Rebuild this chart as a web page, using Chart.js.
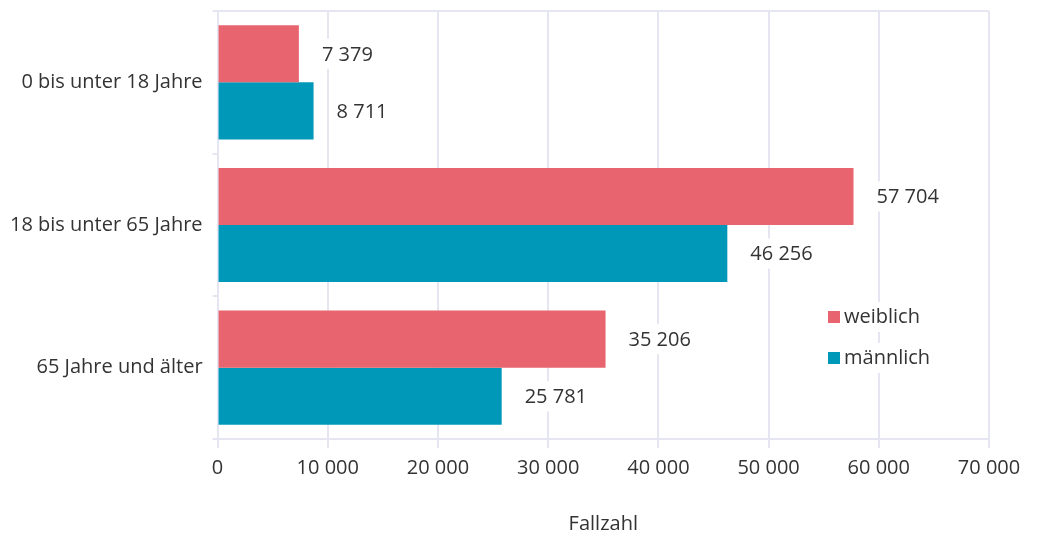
<!DOCTYPE html>
<html>
<head>
<meta charset="utf-8">
<script src="https://cdn.jsdelivr.net/npm/chart.js@4/dist/chart.umd.min.js"></script>
<style>
  html, body { margin: 0; padding: 0; background: #fff; }
  #wrap { width: 1040px; height: 533px; }
</style>
</head>
<body>
<div id="wrap"><canvas id="chart"></canvas></div>
<script>
const categories = ['0 bis unter 18 Jahre', '18 bis unter 65 Jahre', '65 Jahre und älter'];
const weiblich = [7379, 57704, 35206];
const maennlich = [8711, 46256, 25781];
const seriesNames = ['weiblich', 'männlich'];
const xTitle = 'Fallzahl';

const PINK = '#e8646e';
const BLUE = '#0098b9';
const GRID = '#e6e6f3';
const TEXT = '#333333';
const FONT = "'Open Sans', sans-serif";
const FS = 20;

const fmt = v => String(v).replace(/\B(?=(\d{3})+(?!\d))/g, ' ');

// Wertbeschriftungen rechts neben den Balken
const valueLabels = {
    id: 'valueLabels',
    afterDatasetsDraw(chart) {
        const c = chart.ctx;
        c.save();
        c.font = FS + 'px ' + FONT;
        c.textBaseline = 'middle';
        chart.data.datasets.forEach((ds, i) => {
            chart.getDatasetMeta(i).data.forEach((bar, j) => {
                const txt = fmt(ds.data[j]);
                const x = bar.x + 23;
                const w = c.measureText(txt).width;
                c.fillStyle = '#fff';
                c.fillRect(x - 6, bar.y - 15, w + 12, 30);
                c.fillStyle = TEXT;
                c.fillText(txt, x, bar.y + 1);
            });
        });
        c.restore();
    }
};

// Legende innerhalb der Grafik
const innerLegend = {
    id: 'innerLegend',
    afterDraw(chart) {
        const c = chart.ctx;
        c.save();
        c.font = FS + 'px ' + FONT;
        c.textBaseline = 'middle';
        chart.data.datasets.forEach((ds, i) => {
            const y = 317 + i * 41;
            c.fillStyle = '#fff';
            c.fillRect(822, y - 15, 116, 30);
            c.fillStyle = ds.backgroundColor;
            c.fillRect(828, y - 6, 12, 12);
            c.fillStyle = TEXT;
            c.fillText(ds.label, 844, y);
        });
        c.restore();
    }
};

new Chart(document.getElementById('chart'), {
    type: 'bar',
    data: {
        labels: categories,
        datasets: [
            { label: seriesNames[0], data: weiblich, backgroundColor: PINK },
            { label: seriesNames[1], data: maennlich, backgroundColor: BLUE }
        ]
    },
    options: {
        indexAxis: 'y',
        responsive: true,
        maintainAspectRatio: false,
        animation: false,
        layout: { padding: { top: 11, right: 51, bottom: -3, left: 0 } },
        datasets: { bar: { categoryPercentage: 0.8, barPercentage: 1.0 } },
        plugins: {
            legend: { display: false },
            tooltip: { enabled: false }
        },
        scales: {
            x: {
                min: 0,
                max: 70000,
                ticks: {
                    stepSize: 10000,
                    color: TEXT,
                    font: { family: FONT, size: FS },
                    padding: 8,
                    callback: v => fmt(v)
                },
                grid: { color: GRID, lineWidth: 2, tickLength: 9 },
                border: { color: GRID, width: 2 },
                title: {
                    display: true,
                    text: xTitle,
                    color: TEXT,
                    font: { family: FONT, size: FS },
                    padding: { top: 24, bottom: 0 }
                }
            },
            y: {
                offset: true,
                afterFit: s => { s.paddingTop = 0; s.paddingBottom = 0; },
                ticks: {
                    color: TEXT,
                    font: { family: FONT, size: FS },
                    padding: 10
                },
                grid: {
                    offset: true,
                    lineWidth: 2,
                    tickLength: 5,
                    tickColor: GRID,
                    color: ctx => ctx.index === 0 ? GRID : 'rgba(0,0,0,0)'
                },
                border: { color: GRID, width: 2 }
            }
        }
    },
    plugins: [valueLabels, innerLegend]
});
</script>
</body>
</html>
